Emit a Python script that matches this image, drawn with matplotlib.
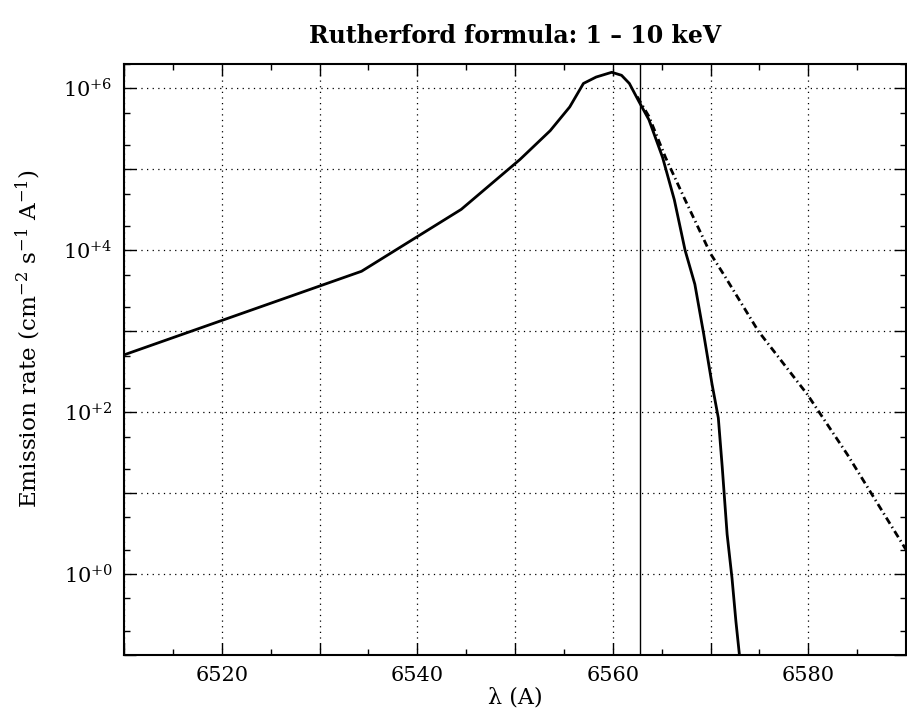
import matplotlib
matplotlib.use('Agg')
import matplotlib.pyplot as plt
from matplotlib.ticker import FixedLocator, MultipleLocator, LogLocator, FuncFormatter, NullFormatter
import numpy as np

plt.rcParams['font.family'] = 'DejaVu Serif'
plt.rcParams['mathtext.fontset'] = 'dejavuserif'

# ── Data ──────────────────────────────────────────────────────────────────────
wave_solid = [6510.0, 6534.3, 6544.5, 6550.5, 6553.6, 6555.6, 6557.0, 6558.3,
              6559.9, 6560.9, 6561.7, 6562.7, 6563.7, 6565.1, 6566.3, 6567.4,
              6568.4, 6569.3, 6570.15, 6570.8, 6571.2, 6571.7, 6572.2, 6572.6,
              6573.0]
rate_solid = [510, 5.5e3, 3.2e4, 1.32e5, 3.0e5, 5.9e5, 1.15e6, 1.38e6,
              1.58e6, 1.45e6, 1.15e6, 6.8e5, 4.1e5, 1.4e5, 4.2e4, 1.0e4,
              3.8e3, 930, 224, 85, 21, 3.1, 0.89, 0.26,
              0.09]

wave_dash = [6562.5, 6563.7, 6565.4, 6567.4, 6570.0, 6571.5, 6574.9, 6579.9,
             6584.0, 6590.0]
rate_dash = [7.9e5, 4.5e5, 1.4e5, 4.2e4, 9.1e3, 4.7e3, 1.0e3, 166,
             30, 2.0]

line_center = 6562.8

TITLE  = 'Rutherford formula: 1 – 10 keV'
XLABEL = 'λ (A)'
YLABEL = r'Emission rate (cm$^{-2}$ s$^{-1}$ A$^{-1}$)'

# ── Figure ────────────────────────────────────────────────────────────────────
fig = plt.figure(figsize=(9.07, 7.24), dpi=100)
ax = fig.add_axes([124 / 907, 1 - 655 / 724, (906 - 124) / 907, (655 - 64) / 724])

ax.plot(wave_dash, rate_dash, color='black', lw=2.0, linestyle=(0, (2.6, 1.3, 0.5, 1.3)))
ax.plot(wave_solid, rate_solid, color='black', lw=2.0, solid_joinstyle='round')
ax.axvline(line_center, color='black', lw=1.0)

ax.set_yscale('log')
ax.set_xlim(6510, 6590)
ax.set_ylim(0.1, 2.0e6)

ax.xaxis.set_major_locator(MultipleLocator(10))
ax.xaxis.set_minor_locator(MultipleLocator(5))
ax.xaxis.set_major_formatter(FuncFormatter(lambda v, p: f'{v:.0f}' if round(v) % 20 == 0 else ''))

ax.yaxis.set_major_locator(FixedLocator([10.0 ** k for k in range(-1, 7)]))
ax.yaxis.set_minor_locator(LogLocator(base=10, subs=(2, 5)))
ax.yaxis.set_minor_formatter(NullFormatter())

def ylab(v, p):
    k = int(round(np.log10(v)))
    return rf'$10^{{+{k}}}$' if k >= 0 and k % 2 == 0 else ''
ax.yaxis.set_major_formatter(FuncFormatter(ylab))

ax.tick_params(which='both', direction='in', top=True, right=True, colors='black', labelsize=15)
ax.tick_params(which='major', length=8.5, width=1.0, pad=8)
ax.tick_params(which='minor', length=4.3, width=1.0)
for s in ax.spines.values():
    s.set_linewidth(1.5)

ax.grid(True, which='major', color='black', linestyle=(0, (1, 3.5)), linewidth=0.9)

ax.set_xlabel(XLABEL, fontsize=16, labelpad=1)
ax.set_ylabel(YLABEL, fontsize=16.7)
ax.yaxis.set_label_coords(-0.104, 0.535)
ax.set_title(TITLE, fontsize=17, fontweight='bold', pad=15)

fig.savefig('out.png', dpi=100)
